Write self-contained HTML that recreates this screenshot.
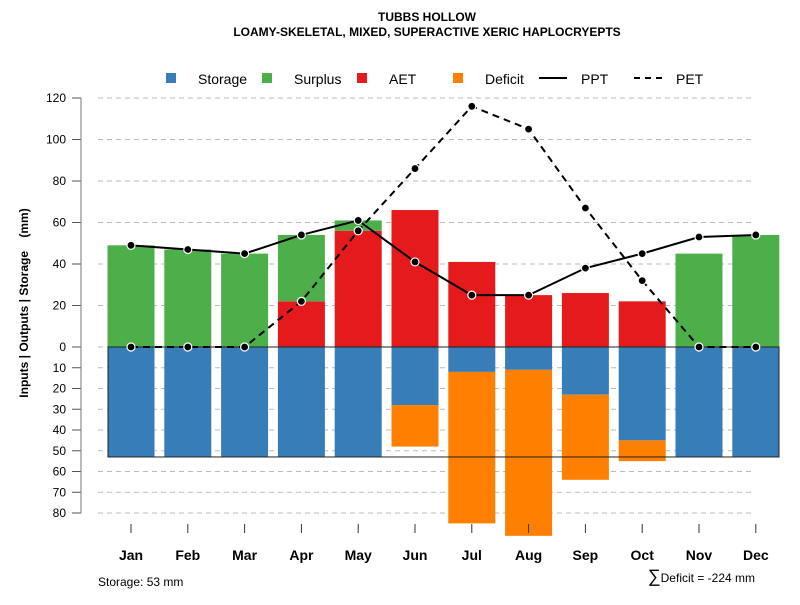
<!DOCTYPE html>
<html><head><meta charset="utf-8"><style>
body{margin:0;background:#fff}
svg text{font-family:"Liberation Sans",sans-serif}
</style></head><body>
<svg id="c" width="800" height="600" xmlns="http://www.w3.org/2000/svg">
<text x="427" y="21" text-anchor="middle" font-size="12" font-weight="bold">TUBBS HOLLOW</text>
<text x="427" y="36" text-anchor="middle" font-size="12" font-weight="bold">LOAMY-SKELETAL, MIXED, SUPERACTIVE XERIC HAPLOCRYEPTS</text>
<g font-size="14">
<rect x="166" y="73" width="10" height="10" fill="#377eb8"/><text x="198" y="84">Storage</text>
<rect x="262" y="73" width="10" height="10" fill="#4daf4a"/><text x="294" y="84">Surplus</text>
<rect x="357" y="73" width="10" height="10" fill="#e41a1c"/><text x="389" y="84">AET</text>
<rect x="453" y="73" width="10" height="10" fill="#ff7f00"/><text x="485" y="84">Deficit</text>
<line x1="539" y1="78" x2="567" y2="78" stroke="#000" stroke-width="2"/><text x="581" y="84">PPT</text>
<line x1="634" y1="78" x2="662" y2="78" stroke="#000" stroke-width="2" stroke-dasharray="6,5"/><text x="676" y="84">PET</text>
</g>
<text transform="translate(28,303) rotate(-90)" text-anchor="middle" font-size="12" font-weight="bold" style="white-space:pre">Inputs | Outputs | Storage    (mm)</text>
<text x="98" y="586" font-size="12">Storage: 53 mm</text>
<text x="755" y="582" text-anchor="end" font-size="12"><tspan font-size="18">∑</tspan>Deficit = -224 mm</text>
<g id="grid"></g><g id="bars"></g><g id="lines"></g><g id="axes"></g>
</svg>
<script>
const months=["Jan","Feb","Mar","Apr","May","Jun","Jul","Aug","Sep","Oct","Nov","Dec"];
const storage=[53,53,53,53,53,28,12,11,23,45,53,53];
const deficit=[0,0,0,0,0,20,73,80,41,10,0,0];
const aet=[0,0,0,22,56,66,41,25,26,22,0,0];
const surplus=[49,47,45,32,5,0,0,0,0,0,45,54];
const ppt=[49,47,45,54,61,41,25,25,38,45,53,54];
const pet=[0,0,0,22,56,86,116,105,67,32,0,0];
const upTicks=[0,20,40,60,80,100,120];
const downTicks=[10,20,30,40,50,60,70,80];
const NS="http://www.w3.org/2000/svg";
const y0=347, k=2.075;
const yUp=v=>y0-v*k, yDn=v=>y0+v*k;
const xM=i=>131+i*56.8;
const bw=47;
function mk(p,t,a){const e=document.createElementNS(NS,t);for(const n in a)e.setAttribute(n,a[n]);document.getElementById(p).appendChild(e);return e;}
upTicks.concat(downTicks).forEach((v,j)=>{
 const up=j<upTicks.length, y=up?yUp(v):yDn(v);
 const g=mk("grid","line",{x1:98,x2:755,y1:y,y2:y,stroke:"#bbb","stroke-dasharray":"5,4"});
 
 
 const t=mk("axes","line",{x1:72,x2:81,y1:y,y2:y,stroke:"#555"});
 
 
 const l=mk("axes","text",{x:66,y:y+4,"text-anchor":"end","font-size":12});
 l.textContent=v;
 
 
});
const ax=mk("axes","line",{x1:81,x2:81,y1:yUp(120),y2:yDn(80),stroke:"#777"});


months.forEach((m,i)=>{
 const x=xM(i)-bw/2;
 const s=mk("bars","rect",{x:x,y:y0,width:bw,height:storage[i]*k,fill:"#377eb8"});
 
 
 if(deficit[i]>0){const d=mk("bars","rect",{x:x,y:yDn(storage[i]),width:bw,height:deficit[i]*k,fill:"#ff7f00"});
 
 }
 if(aet[i]>0){const a=mk("bars","rect",{x:x,y:yUp(aet[i]),width:bw,height:aet[i]*k,fill:"#e41a1c"});
 
 }
 if(surplus[i]>0){const g=mk("bars","rect",{x:x,y:yUp(aet[i]+surplus[i]),width:bw,height:surplus[i]*k,fill:"#4daf4a"});
 
 }
 const t=mk("axes","line",{x1:xM(i),x2:xM(i),y1:524,y2:533,stroke:"#333"});
 
 
 const l=mk("axes","text",{x:xM(i),y:560,"text-anchor":"middle","font-size":14,"font-weight":"bold"});
 l.textContent=m;
 
 
});
const maxS=Math.max(...storage);
const box=mk("bars","rect",{x:108,y:y0,width:671,height:maxS*k,fill:"none",stroke:"#222","stroke-width":1});


[[ppt,null,'ppt'],[pet,"7,5",'pet']].forEach(([arr,dash,nm])=>{
 const pl=mk("lines","polyline",{points:arr.map((v,i)=>xM(i)+","+yUp(v)).join(" "),fill:"none",stroke:"#000","stroke-width":2});
 if(dash)pl.setAttribute("stroke-dasharray",dash);
 
 
 arr.forEach((v,i)=>{const c=mk("lines","circle",{cx:xM(i),cy:yUp(v),r:4,fill:"#000",stroke:"#fff","stroke-width":1.2});
 
 });
});
</script>
</body></html>
